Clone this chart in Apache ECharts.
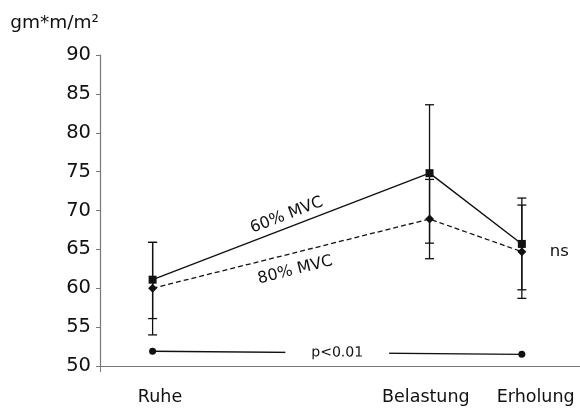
<!DOCTYPE html>
<html>
<head>
<meta charset="utf-8">
<script src="https://cdn.jsdelivr.net/npm/echarts@6/dist/echarts.min.js"></script>
<style>
  html, body { margin: 0; padding: 0; background: #ffffff; }
  #chart { width: 580px; height: 412px; }
</style>
</head>
<body>
<div id="chart"></div>
<script>
  // Messzeitpunkte (Position auf der Zeitachse) und Beschriftungen
  var categories = ['Ruhe', 'Belastung', 'Erholung'];
  var xPos = [1, 4, 5];
  var labelPos = [1.08, 3.96, 5.15];
  var xMin = 0.43, xMax = 5.63;

  // 60% MVC (durchgezogen, Quadrate)
  var mvc60 = [61.1, 74.8, 65.7];
  var mvc60Low = [56.1, 65.8, 59.8];
  var mvc60High = [65.9, 83.6, 71.6];

  // 80% MVC (gestrichelt, Rauten)
  var mvc80 = [60.0, 68.9, 64.7];
  var mvc80Low = [54.0, 63.8, 58.7];
  var mvc80High = [65.9, 74.0, 70.7];

  // Signifikanzlinie Ruhe -> Erholung
  var pLineY = [51.9, 51.5];

  var yTicks = [50, 55, 60, 65, 70, 75, 80, 85, 90];

  var ink = '#111111';
  var axisGray = '#777777';

  function errorBars(params, api) {
    var x = api.value(0);
    var lo = api.coord([x, api.value(1)]);
    var hi = api.coord([x, api.value(2)]);
    var w = 4.5;
    var st = { stroke: ink, lineWidth: 1.3 };
    return {
      type: 'group',
      children: [
        { type: 'line', shape: { x1: lo[0], y1: lo[1], x2: hi[0], y2: hi[1] }, style: st },
        { type: 'line', shape: { x1: lo[0] - w, y1: lo[1], x2: lo[0] + w, y2: lo[1] }, style: st },
        { type: 'line', shape: { x1: hi[0] - w, y1: hi[1], x2: hi[0] + w, y2: hi[1] }, style: st }
      ]
    };
  }

  var chart = echarts.init(document.getElementById('chart'));
  var option = {
    animation: false,
    textStyle: { fontFamily: 'DejaVu Sans', color: ink },
    grid: { left: 100, right: 0, top: 55, bottom: 46 },
    xAxis: {
      type: 'value',
      min: xMin,
      max: xMax,
      splitLine: { show: false },
      axisLine: { lineStyle: { color: axisGray, width: 1.2 } },
      axisTick: { show: true, customValues: [xMin], length: 6, lineStyle: { color: axisGray } },
      axisLabel: {
        customValues: labelPos,
        formatter: function (v) { return categories[labelPos.indexOf(v)] || ''; },
        fontSize: 17.5,
        color: ink,
        margin: 22
      }
    },
    yAxis: {
      type: 'value',
      min: 50,
      max: 90,
      interval: 5,
      name: 'gm*m/m²',
      nameLocation: 'end',
      nameGap: 22,
      nameTextStyle: { fontSize: 18.5, color: ink, align: 'right', padding: [0, 1, 0, 0] },
      splitLine: { show: false },
      axisLine: { show: true, lineStyle: { color: axisGray, width: 1.2 } },
      axisTick: { show: true, length: 4, lineStyle: { color: axisGray } },
      axisLabel: {
        fontSize: 19.5,
        color: ink,
        margin: 9,
        formatter: function (v) { return yTicks.indexOf(v) >= 0 ? String(v) : ''; }
      }
    },
    series: [
      {
        type: 'custom',
        renderItem: errorBars,
        data: xPos.map(function (x, i) { return [x, mvc60Low[i], mvc60High[i]]; }),
        z: 2
      },
      {
        type: 'custom',
        renderItem: errorBars,
        data: xPos.map(function (x, i) { return [x, mvc80Low[i], mvc80High[i]]; }),
        z: 2
      },
      {
        name: '60% MVC',
        type: 'line',
        data: xPos.map(function (x, i) { return [x, mvc60[i]]; }),
        symbol: 'rect',
        symbolSize: 8,
        itemStyle: { color: ink },
        lineStyle: { color: ink, width: 1.4 },
        z: 3,
        markLine: {
          silent: true,
          symbol: 'none',
          lineStyle: { color: 'transparent', width: 0 },
          label: {
            show: true,
            position: 'insideMiddleTop',
            formatter: '60% MVC',
            fontSize: 16,
            color: ink,
            distance: 4
          },
          data: [[{ coord: [xPos[0], mvc60[0]] }, { coord: [xPos[1], mvc60[1]] }]]
        }
      },
      {
        name: '80% MVC',
        type: 'line',
        data: xPos.map(function (x, i) { return [x, mvc80[i]]; }),
        symbol: 'diamond',
        symbolSize: 9,
        itemStyle: { color: ink },
        lineStyle: { color: ink, width: 1.3, type: [5, 3] },
        z: 3,
        endLabel: { show: true, formatter: 'ns', fontSize: 16.5, color: ink, distance: 28 },
        markLine: {
          silent: true,
          symbol: 'none',
          lineStyle: { color: 'transparent', width: 0 },
          label: {
            show: true,
            position: 'insideMiddleBottom',
            formatter: '80% MVC',
            fontSize: 16,
            color: ink,
            distance: 9
          },
          data: [[{ coord: [xPos[0], mvc80[0]] }, { coord: [xPos[1], mvc80[1]] }]]
        }
      },
      {
        name: 'p',
        type: 'line',
        data: [],
        markLine: {
          silent: true,
          symbol: ['circle', 'circle'],
          symbolSize: 7,
          lineStyle: { color: ink, width: 1.3, type: 'solid' },
          itemStyle: { color: ink },
          label: {
            show: true,
            position: 'middle',
            distance: 0,
            verticalAlign: 'middle',
            formatter: 'p<0.01',
            fontSize: 14,
            color: ink,
            backgroundColor: '#ffffff',
            padding: [2, 26]
          },
          data: [[{ coord: [xPos[0], pLineY[0]] }, { coord: [xPos[2], pLineY[1]] }]]
        }
      }
    ]
  };
  chart.setOption(option);
</script>
</body>
</html>
